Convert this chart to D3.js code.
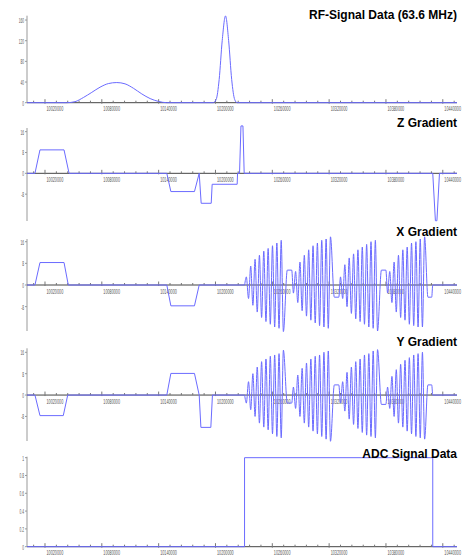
<!DOCTYPE html>
<html>
<head>
<meta charset="utf-8">
<script src="https://cdn.jsdelivr.net/npm/d3@7"></script>
<style>
  body { margin: 0; background: #fff; }
  svg { display: block; }
</style>
</head>
<body>
<div id="chart"></div>
<script>
// sequence window (simulation time units)
var tStart = 10001000, tEnd = 10455000;

var xTicks = [10020000, 10080000, 10140000, 10200000, 10260000, 10320000, 10380000, 10440000];

// RF pulse amplitude
var rfTime = [10001000, 10042900, 10051700, 10060500, 10069400, 10078100, 10086900, 10095800, 10104500,
    10113300, 10122200, 10131000, 10139800, 10148600, 10197600, 10200700, 10203900, 10207100, 10210600,
    10213900, 10217100, 10220300, 10222900, 10455000];
var rfAmp = [0, 0, 2, 10, 20, 30, 37, 39, 36.5, 28, 17, 8, 2.5, 0, 0, 6, 45, 120, 168, 120, 45, 6, 0, 0];

// Z gradient
var gzTime = [10001000, 10009400, 10014700, 10040100, 10045400, 10148600, 10152900, 10177800, 10182800,
    10184900, 10195500, 10196500, 10222900, 10223300, 10225400, 10226900, 10229000, 10230300, 10429400,
    10432200, 10433800, 10436500, 10455000];
var gzAmp = [0, 0, 9, 9, 0, 0, -7, -7, 0, -11.5, -11.5, -4.2, -4.2, 0, 0, 18.2, 18.2, 0, 0, -18.2, -18.2, 0, 0];

// X gradient before readout
var gxTime = [10001000, 10009400, 10014700, 10040100, 10044600, 10148600, 10152900, 10177800, 10182800, 10230800];
var gxAmp = [0, 0, 8.3, 8.3, 0, 0, -7.7, -7.7, 0, 0];

// Y gradient before readout
var gyTime = [10001000, 10009400, 10014700, 10039300, 10044000, 10148600, 10152900, 10177800, 10182800,
    10184600, 10195100, 10196800, 10230800];
var gyAmp = [0, 0, -7.7, -7.7, 0, 0, 8.1, 8.1, 0, -12.1, -12.1, 0, 0];

// readout: extrema of the 4 oscillating segments, shared by X and Y
var roTime = [10230800,
    10232600, 10234900, 10237200, 10239500, 10241800, 10244100, 10246400, 10248700, 10251000,
    10253300, 10255600, 10257900, 10260200, 10262500, 10264800, 10267100, 10269400, 10271700,
    10275800, 10280500,
    10282300, 10284600, 10286900, 10289200, 10291500, 10293800, 10296100, 10298400, 10300700,
    10303000, 10305300, 10307600, 10309900, 10312200, 10314500, 10316800, 10319100, 10321400,
    10325500, 10330200,
    10332000, 10334300, 10336600, 10338900, 10341200, 10343500, 10345800, 10348100, 10350400,
    10352700, 10355000, 10357300, 10359600, 10361900, 10364200, 10366500, 10368800, 10371100,
    10375200, 10379900,
    10381700, 10384000, 10386300, 10388600, 10390900, 10393200, 10395500, 10397800, 10400100,
    10402400, 10404700, 10407000, 10409300, 10411600, 10413900, 10416200, 10418500, 10420800,
    10424300, 10428300,
    10429400, 10455000];
var roX = [0,
    3, -5, 7, -7.5, 9.5, -10, 11, -12, 12.5, -13.5, 13.5, -14.5, 14.5, -15.5, 15.5, -16, 16.5, -17.2,
    5.5, 5.5,
    -3, 5, -6.5, 8.5, -9.5, 11, -11.5, 13, -13, 14.5, -14, 15.5, -15, 16.5, -15.5, 17, -16, 17.8,
    -4.5, -4.5,
    3, -5, 7.5, -8, 10, -10.5, 11.5, -12.5, 13, -13.5, 14, -14.5, 15, -15.5, 16, -16, 16.5, -17,
    5.5, 5.5,
    -3, 5, -6.5, 8.5, -10, 11, -12, 13, -13, 14, -14.5, 15.5, -15, 16, -15.5, 17, -15.5, 17.8,
    -4.5, -4.5,
    0, 0];
var roY = [0,
    -3, 5, -5.5, 8, -8, 10.5, -10.5, 12.5, -12, 13.5, -13, 14.5, -14.5, 15, -15.5, 15.5, -16, 16.8,
    -3, -3,
    3, -5, 7.5, -8, 10, -10.5, 12, -12, 13.5, -13.5, 14.5, -14.5, 15, -15.5, 16, -16.5, 16.5, -17.3,
    3.8, 3.8,
    -3, 5, -6, 8.5, -9, 10.5, -11, 12.5, -12.5, 13.5, -14, 15, -15, 15.5, -15.5, 16.5, -16, 17,
    -3.5, -3.5,
    3, -5, 7, -8, 9.5, -10.5, 11.5, -12, 13, -13.5, 14, -14.5, 15, -15.5, 15.5, -16, 16, -16.5,
    3.8, 3.8,
    0, 0];

// ADC on/off
var adcTime = [10001000, 10230700, 10230700, 10429400, 10429400, 10455000];
var adcOn = [0, 0, 1, 1, 0, 0];

var rfTicks = [0, 40, 80, 120, 160];
var gradTicks = [-8, 0, 8, 16];
var adcTicks = [0, 0.2, 0.4, 0.6, 0.8, 1];

var width = 475, height = 558;
var blue = "#6b6bff";

var svg = d3.select("#chart").append("svg")
    .attr("width", width)
    .attr("height", height);

var x = d3.scaleLinear().domain([tStart, tEnd]).range([27, 457]);

var panels = [
    {title: "RF-Signal Data (63.6 MHz)", titleY: 18.5, domain: [0, 168.4], range: [102.7, 15.7], ticks: rfTicks,
        series: [{t: rfTime, v: rfAmp, curve: d3.curveMonotoneX}]},
    {title: "Z Gradient", titleY: 126.5, domain: [-18.3, 17.4], range: [221, 128], ticks: gradTicks,
        series: [{t: gzTime, v: gzAmp, curve: d3.curveLinear}]},
    {title: "X Gradient", titleY: 235.7, domain: [-17, 17], range: [331, 239], ticks: gradTicks,
        series: [{t: gxTime, v: gxAmp, curve: d3.curveLinear}, {t: roTime, v: roX, curve: d3.curveMonotoneX}]},
    {title: "Y Gradient", titleY: 345.7, domain: [-17.2, 17.5], range: [441, 348.3], ticks: gradTicks,
        series: [{t: gyTime, v: gyAmp, curve: d3.curveLinear}, {t: roTime, v: roY, curve: d3.curveMonotoneX}]},
    {title: "ADC Signal Data", titleY: 458.3, domain: [0, 1.011], range: [546.7, 456.7], ticks: adcTicks,
        series: [{t: adcTime, v: adcOn, curve: d3.curveLinear}]}
];

var minorTicks = d3.range(10008000, tEnd, 12000).filter(function(t) {
    return xTicks.indexOf(t) < 0;
});

var labelFont = "8px 'Liberation Sans', Arial, sans-serif";

panels.forEach(function(p) {
    var y = d3.scaleLinear().domain(p.domain).range(p.range);
    var g = svg.append("g");
    var y0 = y(0);

    // y axis
    g.append("line")
        .attr("x1", x(tStart)).attr("x2", x(tStart))
        .attr("y1", p.range[0]).attr("y2", p.range[1])
        .style("stroke", "#999").style("stroke-width", 1);

    g.selectAll(".ytick").data(p.ticks).enter().append("line")
        .attr("x1", x(tStart) - 2).attr("x2", x(tStart))
        .attr("y1", function(d) { return y(d); })
        .attr("y2", function(d) { return y(d); })
        .style("stroke", "#999");

    // squeezed labels, like the narrow font of the original
    g.selectAll(".ylab").data(p.ticks).enter().append("text")
        .attr("transform", function(d) {
            return "translate(" + (x(tStart) - 3) + "," + (y(d) + 3) + ") scale(0.4,1)";
        })
        .attr("text-anchor", "end")
        .style("font", labelFont)
        .style("fill", "#555")
        .text(function(d) { return String(d); });

    // x axis at zero
    g.append("line")
        .attr("x1", x(tStart)).attr("x2", x(tEnd))
        .attr("y1", y0).attr("y2", y0)
        .style("stroke", "#444").style("stroke-width", 1);

    g.selectAll(".minor").data(minorTicks).enter().append("line")
        .attr("x1", function(d) { return x(d); })
        .attr("x2", function(d) { return x(d); })
        .attr("y1", y0 - 2).attr("y2", y0)
        .style("stroke", "#777");

    g.selectAll(".major").data(xTicks).enter().append("line")
        .attr("x1", function(d) { return x(d); })
        .attr("x2", function(d) { return x(d); })
        .attr("y1", y0 - 3.5).attr("y2", y0 + 1)
        .style("stroke", "#777");

    g.selectAll(".xlab").data(xTicks).enter().append("text")
        .attr("transform", function(d) {
            return "translate(" + (x(d) + 1.5) + "," + (y0 + 8.5) + ") scale(0.47,1)";
        })
        .style("font", labelFont)
        .style("fill", "#555")
        .text(function(d) { return String(d); });

    // signals
    p.series.forEach(function(s) {
        var line = d3.line()
            .x(function(d) { return x(d[0]); })
            .y(function(d) { return y(d[1]); })
            .curve(s.curve);
        g.append("path")
            .attr("d", line(d3.zip(s.t, s.v)))
            .style("fill", "none")
            .style("stroke", blue)
            .style("stroke-width", 1);
    });

    // title
    g.append("text")
        .attr("x", 457)
        .attr("y", p.titleY)
        .attr("text-anchor", "end")
        .style("font", "bold 12px 'Liberation Sans', Arial, sans-serif")
        .style("fill", "#000")
        .text(p.title);
});
</script>
</body>
</html>
